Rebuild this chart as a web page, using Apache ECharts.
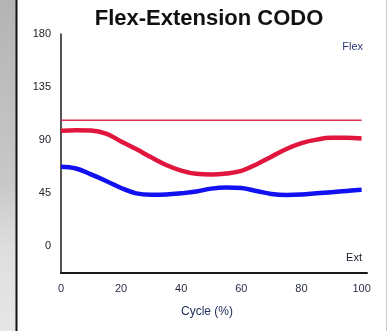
<!DOCTYPE html>
<html>
<head>
<meta charset="utf-8">
<script src="https://cdn.jsdelivr.net/npm/echarts@6/dist/echarts.min.js"></script>
<style>
  html, body { margin: 0; padding: 0; background: #ffffff; }
  #chart { width: 388px; height: 331px; }
</style>
</head>
<body>
<div id="chart"></div>
<script>
// Gait cycle percentage (x) and joint angle in degrees (y)
const cyclePct = [0, 5, 10, 15, 20, 25, 30, 35, 40, 45, 50, 55, 60, 65, 70, 75, 80, 85, 90, 95, 100];
const flexCurve = [98, 98.5, 98.2, 95.5, 89, 82.5, 75.5, 69, 64.2, 61.5, 61, 61.8, 64, 69.5, 76, 82.5, 87.5, 90.5, 92, 92, 91.5];
const extCurve = [67.5, 66, 61, 55.5, 49.5, 45, 43.8, 44, 45, 46.5, 49, 50, 49.5, 47, 44.5, 43.6, 44, 45, 46, 47, 48];
const flexLimit = 107;
const yTicks = [0, 45, 90, 135, 180];
const xTicks = [0, 20, 40, 60, 80, 100];

const chart = echarts.init(document.getElementById('chart'), null, { renderer: 'canvas' });

const pair = (xs, ys) => xs.map((x, i) => [x, ys[i]]);

chart.setOption({
  backgroundColor: '#ffffff',
  animation: false,
  title: {
    text: 'Flex-Extension CODO',
    left: 204,
    textAlign: 'center',
    top: 3,
    textStyle: { fontFamily: 'Liberation Sans', fontWeight: 'bold', fontSize: 22, color: '#111111' }
  },
  grid: { left: 61, right: 21, top: 34, bottom: 58 },
  xAxis: {
    type: 'value',
    min: 0,
    max: 101.8,
    splitLine: { show: false },
    axisTick: { show: false },
    axisLine: { show: true, onZero: false, lineStyle: { color: '#1a1a1a', width: 2 } },
    axisLabel: {
      customValues: xTicks,
      margin: 10,
      fontFamily: 'Liberation Sans',
      fontSize: 11,
      color: '#2a3048'
    },
    name: 'Cycle (%)',
    nameLocation: 'middle',
    nameGap: 33,
    nameTextStyle: { fontFamily: 'Liberation Sans', fontSize: 12, color: '#23305a', padding: [0, 14, 0, 0] }
  },
  yAxis: {
    type: 'value',
    min: -22.5,
    max: 180,
    splitLine: { show: false },
    axisTick: { show: false },
    axisLine: { show: true, onZero: false, lineStyle: { color: '#1a1a1a', width: 1.5 } },
    axisLabel: {
      customValues: yTicks,
      margin: 10,
      fontFamily: 'Liberation Sans',
      fontSize: 11,
      color: '#22222a'
    }
  },
  series: [
    {
      name: 'Limit',
      type: 'line',
      data: [[0, flexLimit], [100, flexLimit]],
      symbol: 'none',
      lineStyle: { color: '#e0304c', width: 1.5 },
      silent: true
    },
    {
      name: 'Flex',
      type: 'line',
      data: pair(cyclePct, flexCurve),
      smooth: 0.4,
      symbol: 'none',
      lineStyle: { color: '#e0163e', width: 4.5 }
    },
    {
      name: 'Ext',
      type: 'line',
      data: pair(cyclePct, extCurve),
      smooth: 0.4,
      symbol: 'none',
      lineStyle: { color: '#1010f0', width: 4.5 }
    }
  ],
  graphic: [
    {
      type: 'rect',
      shape: { x: 0, y: 0, width: 16, height: 331 },
      style: {
        fill: new echarts.graphic.LinearGradient(0, 0, 0, 1, [
          { offset: 0, color: '#b4b4b4' },
          { offset: 0.55, color: '#c8c8c8' },
          { offset: 0.75, color: '#dedede' },
          { offset: 1, color: '#e6e6e6' }
        ])
      },
      silent: true
    },
    {
      type: 'line',
      shape: { x1: 16.5, y1: 0, x2: 16.5, y2: 331 },
      style: { stroke: '#111111', lineWidth: 2 },
      silent: true
    },
    {
      type: 'line',
      shape: { x1: 386.5, y1: 0, x2: 386.5, y2: 331 },
      style: { stroke: '#c8c8c8', lineWidth: 1 },
      silent: true
    },
    {
      type: 'text',
      right: 25,
      top: 41,
      style: { text: 'Flex', font: '11px "Liberation Sans"', fill: '#2a3a70' }
    },
    {
      type: 'text',
      right: 26,
      top: 252,
      style: { text: 'Ext', font: '11px "Liberation Sans"', fill: '#1a1a2a' }
    }
  ]
});
</script>
</body>
</html>
